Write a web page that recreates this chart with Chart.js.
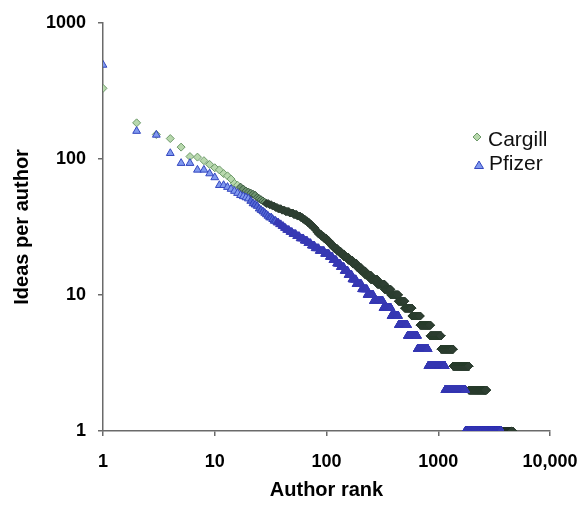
<!DOCTYPE html>
<html>
<head>
<meta charset="utf-8">
<title>Ideas per author</title>
<script src="https://cdn.jsdelivr.net/npm/chart.js@4.4.1/dist/chart.umd.min.js"></script>
<style>
  html, body { margin: 0; padding: 0; background: #fff; }
  #wrap { width: 580px; height: 512px; }
</style>
</head>
<body>
<div id="wrap"><canvas id="ideasChart"></canvas></div>
<script>
// Ideas per author for the first 30 ranks (one value per rank)
const cargillTop = [330, 184, 151, 141, 122, 104, 103, 97, 91, 86, 83, 78, 75, 71, 66,
                    64, 62, 60, 58, 57, 56, 55, 54, 52, 51, 50, 49, 48, 47, 47];
const pfizerTop = [490, 160, 150, 110, 93, 93, 83, 83, 78, 73, 64, 64, 62, 60, 58,
                   56, 54, 53, 52, 51, 49, 47, 46, 45, 43, 42, 41, 40, 39, 38];

// After rank 30: each ideas value and the last rank that has it
const cargillIdeas = [46, 45, 44, 43, 42, 41, 40, 39, 38, 37, 36, 35, 34, 33, 32, 31, 30, 29, 28, 27,
                      26, 25, 24, 23, 22, 21, 20, 19, 18, 17, 16, 15, 14, 13, 12, 11, 10, 9, 8, 7,
                      6, 5, 4, 3, 2, 1];
const cargillLastRank = [32, 34, 36, 39, 42, 46, 50, 54, 58, 61, 64, 67, 70, 73, 76, 79, 81, 84, 89, 94,
                         100, 105, 110, 116, 124, 133, 143, 156, 170, 186, 202, 222, 248, 285, 330, 375, 440, 500, 580, 690,
                         850, 1060, 1360, 1880, 2690, 4600];

const pfizerIdeas = [37, 36, 35, 34, 33, 32, 31, 30, 29, 28, 27, 26, 25, 24, 23, 22, 21, 20, 19, 18,
                     17, 16, 15, 14, 13, 12, 11, 10, 9, 8, 7, 6, 5, 4, 3, 2, 1];
const pfizerLastRank = [32, 33, 35, 37, 39, 41, 43, 46, 49, 53, 57, 62, 67, 72, 78, 85, 95, 105, 113, 122,
                        132, 143, 155, 168, 183, 205, 230, 262, 320, 378, 440, 530, 650, 810, 1150, 1750, 3650];

const xTicks = [1, 10, 100, 1000, 10000];
const yTicks = [1, 10, 100, 1000];

// one point per author rank
function buildPoints(top, ideas, lastRank) {
    let pts = top.map((v, i) => ({ x: i + 1, y: v }));
    let rank = top.length;
    ideas.forEach((v, i) => {
        for (let r = rank + 1; r <= lastRank[i]; r++) pts.push({ x: r, y: v });
        rank = lastRank[i];
    });
    return pts;
}

const fontFamily = "'Liberation Sans', Arial, sans-serif";
const axisColor = '#6a6a6a';

const cargillColors = { light: '#b8d8ad', lightBorder: '#6e9a6a', mid: '#6f9470', midBorder: '#3d5a42', dark: '#2e3f32' };
const pfizerColors = { light: '#8099ee', lightBorder: '#3447c0', mid: '#5468d6', midBorder: '#3040b8', dark: '#3739b4' };

// marker colour by rank: single markers are light, the dense band turns dark
function cargillFill(c) {
    const r = c.raw ? c.raw.x : 1;
    return r <= 16 ? cargillColors.light : r <= 28 ? cargillColors.mid : cargillColors.dark;
}
function cargillEdge(c) {
    const r = c.raw ? c.raw.x : 1;
    return r <= 16 ? cargillColors.lightBorder : r <= 28 ? cargillColors.midBorder : cargillColors.dark;
}
function pfizerFill(c) {
    const r = c.raw ? c.raw.x : 1;
    return r <= 20 ? pfizerColors.light : r <= 35 ? pfizerColors.mid : pfizerColors.dark;
}
function pfizerEdge(c) {
    const r = c.raw ? c.raw.x : 1;
    return r <= 20 ? pfizerColors.lightBorder : r <= 35 ? pfizerColors.midBorder : pfizerColors.dark;
}

// legend drawn to the right, inside the plot
const sideLegend = {
    id: 'sideLegend',
    afterDraw(chart) {
        const ctx = chart.ctx;
        ctx.save();
        // diamond
        ctx.beginPath();
        ctx.moveTo(477, 133); ctx.lineTo(481, 137); ctx.lineTo(477, 141); ctx.lineTo(473, 137);
        ctx.closePath();
        ctx.fillStyle = cargillColors.light; ctx.fill();
        ctx.strokeStyle = cargillColors.lightBorder; ctx.lineWidth = 1; ctx.stroke();
        // triangle
        ctx.beginPath();
        ctx.moveTo(479, 161); ctx.lineTo(483.5, 168.5); ctx.lineTo(474.5, 168.5);
        ctx.closePath();
        ctx.fillStyle = pfizerColors.light; ctx.fill();
        ctx.strokeStyle = pfizerColors.lightBorder; ctx.stroke();

        ctx.fillStyle = '#111';
        ctx.font = '21px ' + fontFamily;
        ctx.textBaseline = 'middle';
        ctx.fillText('Cargill', 488, 140);
        ctx.fillText('Pfizer', 489, 164);
        ctx.restore();
    }
};

const chart = new Chart(document.getElementById('ideasChart'), {
    type: 'scatter',
    data: {
        datasets: [
            {
                label: 'Cargill',
                data: buildPoints(cargillTop, cargillIdeas, cargillLastRank),
                pointStyle: 'rectRot',
                pointRadius: 4,
                pointBorderWidth: 1,
                pointBackgroundColor: cargillFill,
                pointBorderColor: cargillEdge,
                order: 1
            },
            {
                label: 'Pfizer',
                data: buildPoints(pfizerTop, pfizerIdeas, pfizerLastRank),
                pointStyle: 'triangle',
                pointRadius: 4.5,
                pointBorderWidth: 1,
                pointBackgroundColor: pfizerFill,
                pointBorderColor: pfizerEdge,
                order: 0
            }
        ]
    },
    options: {
        responsive: true,
        maintainAspectRatio: false,
        animation: false,
        events: [],
        layout: { padding: { left: 0, right: 30, top: 20, bottom: 0 } },
        plugins: {
            legend: { display: false },
            tooltip: { enabled: false }
        },
        scales: {
            x: {
                type: 'logarithmic',
                min: 1,
                max: 10000,
                afterBuildTicks: s => { s.ticks = xTicks.map(v => ({ value: v })); },
                afterFit: s => { s.height = 81; s.paddingLeft = 0; s.paddingRight = 0; },
                ticks: {
                    autoSkip: false,
                    maxRotation: 0,
                    padding: 15,
                    color: '#000',
                    font: { family: fontFamily, size: 18, weight: 'bold' },
                    callback: v => v === 10000 ? '10,000' : String(v)
                },
                grid: { drawOnChartArea: false, drawTicks: true, tickLength: 5, color: axisColor, lineWidth: 1.5 },
                border: { display: true, color: axisColor, width: 1.5 },
                title: {
                    display: true,
                    text: 'Author rank',
                    color: '#000',
                    font: { family: fontFamily, size: 20, weight: 'bold' },
                    padding: { top: 0, bottom: 10 }
                }
            },
            y: {
                type: 'logarithmic',
                min: 1,
                max: 1000,
                afterBuildTicks: s => { s.ticks = yTicks.map(v => ({ value: v })); },
                afterFit: s => { s.width = 103; },
                ticks: {
                    autoSkip: false,
                    padding: 12,
                    color: '#000',
                    font: { family: fontFamily, size: 18, weight: 'bold' },
                    callback: v => String(v)
                },
                grid: { drawOnChartArea: false, drawTicks: true, tickLength: 5, color: axisColor, lineWidth: 1.5 },
                border: { display: true, color: axisColor, width: 1.5 },
                title: {
                    display: true,
                    text: 'Ideas per author',
                    color: '#000',
                    font: { family: fontFamily, size: 20, weight: 'bold' },
                    padding: { top: 10, bottom: 0 }
                }
            }
        }
    },
    plugins: [sideLegend]
});
</script>
</body>
</html>
